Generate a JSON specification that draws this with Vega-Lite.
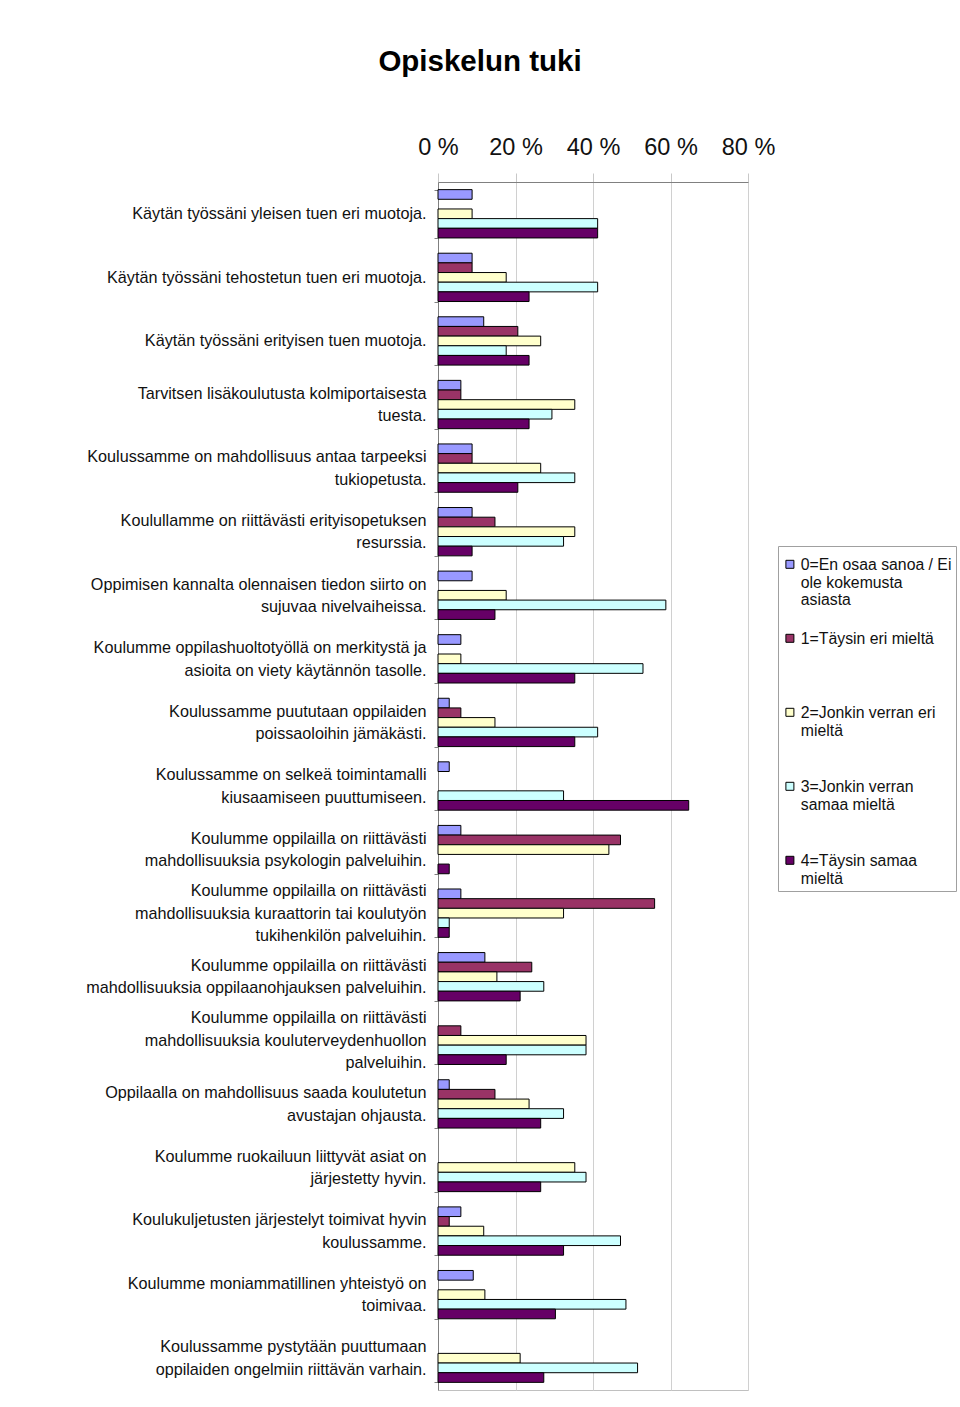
{
  "$schema": "https://vega.github.io/schema/vega-lite/v6.json",
  "width": 310,
  "height": 1208,
  "autosize": {"type": "none"},
  "padding": {"left": 438, "top": 182, "right": 212, "bottom": 17},
  "background": "white",
  "title": {
    "text": "Opiskelun tuki",
    "fontSize": 29.5,
    "fontWeight": "bold",
    "color": "#000000",
    "anchor": "middle",
    "frame": "group",
    "dx": -113,
    "baseline": "alphabetic",
    "offset": 35
  },
  "data": {
    "values": [
      {"q": "Käytän työssäni yleisen tuen eri muotoja.", "0": 8.8, "1": 0, "2": 8.8, "3": 41.2, "4": 41.2},
      {"q": "Käytän työssäni tehostetun tuen eri muotoja.", "0": 8.8, "1": 8.8, "2": 17.6, "3": 41.2, "4": 23.5},
      {"q": "Käytän työssäni erityisen tuen muotoja.", "0": 11.8, "1": 20.6, "2": 26.5, "3": 17.6, "4": 23.5},
      {"q": "Tarvitsen lisäkoulutusta kolmiportaisesta|tuesta.", "0": 5.9, "1": 5.9, "2": 35.3, "3": 29.4, "4": 23.5},
      {"q": "Koulussamme on mahdollisuus antaa tarpeeksi|tukiopetusta.", "0": 8.8, "1": 8.8, "2": 26.5, "3": 35.3, "4": 20.6},
      {"q": "Koulullamme on riittävästi erityisopetuksen|resurssia.", "0": 8.8, "1": 14.7, "2": 35.3, "3": 32.4, "4": 8.8},
      {"q": "Oppimisen kannalta olennaisen tiedon siirto on|sujuvaa nivelvaiheissa.", "0": 8.8, "1": 0, "2": 17.6, "3": 58.8, "4": 14.7},
      {"q": "Koulumme oppilashuoltotyöllä on merkitystä ja|asioita on viety käytännön tasolle.", "0": 5.9, "1": 0, "2": 5.9, "3": 52.9, "4": 35.3},
      {"q": "Koulussamme puututaan oppilaiden|poissaoloihin jämäkästi.", "0": 2.9, "1": 5.9, "2": 14.7, "3": 41.2, "4": 35.3},
      {"q": "Koulussamme on selkeä toimintamalli|kiusaamiseen puuttumiseen.", "0": 2.9, "1": 0, "2": 0, "3": 32.4, "4": 64.7},
      {"q": "Koulumme oppilailla on riittävästi|mahdollisuuksia psykologin palveluihin.", "0": 5.9, "1": 47.1, "2": 44.1, "3": 0, "4": 2.9},
      {"q": "Koulumme oppilailla on riittävästi|mahdollisuuksia kuraattorin tai koulutyön|tukihenkilön palveluihin.", "0": 5.9, "1": 55.9, "2": 32.4, "3": 2.9, "4": 2.9},
      {"q": "Koulumme oppilailla on riittävästi|mahdollisuuksia oppilaanohjauksen palveluihin.", "0": 12.1, "1": 24.2, "2": 15.2, "3": 27.3, "4": 21.2},
      {"q": "Koulumme oppilailla on riittävästi|mahdollisuuksia kouluterveydenhuollon|palveluihin.", "0": 0, "1": 5.9, "2": 38.2, "3": 38.2, "4": 17.6},
      {"q": "Oppilaalla on mahdollisuus saada koulutetun|avustajan ohjausta.", "0": 2.9, "1": 14.7, "2": 23.5, "3": 32.4, "4": 26.5},
      {"q": "Koulumme ruokailuun liittyvät asiat on|järjestetty hyvin.", "0": 0, "1": 0, "2": 35.3, "3": 38.2, "4": 26.5},
      {"q": "Koulukuljetusten järjestelyt toimivat hyvin|koulussamme.", "0": 5.9, "1": 2.9, "2": 11.8, "3": 47.1, "4": 32.4},
      {"q": "Koulumme moniammatillinen yhteistyö on|toimivaa.", "0": 9.1, "1": 0, "2": 12.1, "3": 48.5, "4": 30.3},
      {"q": "Koulussamme pystytään puuttumaan|oppilaiden ongelmiin riittävän varhain.", "0": 0, "1": 0, "2": 21.2, "3": 51.5, "4": 27.3}
    ]
  },
  "transform": [
    {"fold": ["0", "1", "2", "3", "4"], "as": ["k", "v"]},
    {"filter": "datum.v > 0"}
  ],
  "mark": {"type": "bar", "stroke": "#000000", "strokeWidth": 1},
  "encoding": {
    "y": {
      "field": "q",
      "type": "nominal",
      "sort": null,
      "scale": {"paddingInner": 0.24, "paddingOuter": 0.12},
      "axis": {
        "title": null,
        "labelExpr": "isString(datum.value) ? split(datum.value, '|') : ''",
        "labelFontSize": 16.2,
        "labelLineHeight": 22.5,
        "labelColor": "#111111",
        "labelLimit": 420,
        "labelPadding": 8,
        "labelOffset": {
          "condition": [
            {"test": "isString(datum.value) && length(split(datum.value, '|')) == 3", "value": -22.5},
            {"test": "isString(datum.value) && length(split(datum.value, '|')) == 2", "value": -11.25}
          ],
          "value": 0
        },
        "tickBand": "extent",
        "tickSize": 4,
        "tickColor": "#808080",
        "domainColor": "#808080",
        "grid": false
      }
    },
    "yOffset": {
      "field": "k",
      "type": "nominal",
      "scale": {"domain": ["0", "1", "2", "3", "4"], "paddingInner": 0, "paddingOuter": 0}
    },
    "x": {
      "field": "v",
      "type": "quantitative",
      "scale": {"domain": [0, 80], "nice": false},
      "axis": {
        "orient": "top",
        "title": null,
        "values": [0, 20, 40, 60, 80],
        "labelExpr": "datum.value + ' %'",
        "labelFlush": false,
        "labelFontSize": 23.5,
        "labelColor": "#111111",
        "labelPadding": 14,
        "tickSize": 9,
        "tickColor": "#c8c8c8",
        "domainColor": "#808080",
        "grid": true,
        "gridColor": "#d0d0d0"
      }
    },
    "color": {
      "field": "k",
      "type": "nominal",
      "scale": {
        "domain": ["0", "1", "2", "3", "4"],
        "range": ["#9999FF", "#993366", "#FFFFCC", "#CCFFFF", "#660066"]
      },
      "legend": {
        "orient": "none",
        "legendX": 340,
        "legendY": 364,
        "title": null,
        "direction": "vertical",
        "labelExpr": "datum.label == '0' ? ['0=En osaa sanoa / Ei', 'ole kokemusta', 'asiasta'] : datum.label == '1' ? ['1=Täysin eri mieltä'] : datum.label == '2' ? ['2=Jonkin verran eri', 'mieltä'] : datum.label == '3' ? ['3=Jonkin verran', 'samaa mieltä'] : ['4=Täysin samaa', 'mieltä']",
        "labelFontSize": 15.8,
        "labelLineHeight": 21,
        "labelBaseline": "top",
        "labelColor": "#111111",
        "labelLimit": 200,
        "labelOffset": 3,
        "symbolType": "M-1,0.6H1V2.6H-1Z",
        "symbolSize": 64,
        "symbolStrokeColor": "#000000",
        "symbolStrokeWidth": 1,
        "gridAlign": "all",
        "rowPadding": 15,
        "padding": 4,
        "strokeColor": "#a0a0a0",
        "fillColor": "white"
      }
    }
  },
  "config": {
    "font": "Liberation Sans",
    "view": {"stroke": "#c0c0c0"}
  }
}
